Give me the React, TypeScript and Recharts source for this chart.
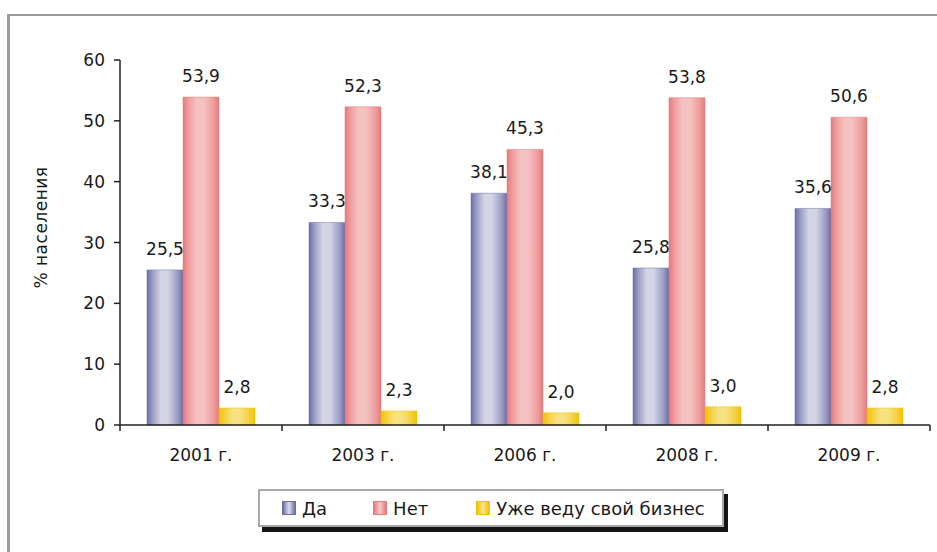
import { BarChart, Bar, XAxis, YAxis, LabelList } from "recharts";

// categories and series
const years = ["2001 г.", "2003 г.", "2006 г.", "2008 г.", "2009 г."];
const da = [25.5, 33.3, 38.1, 25.8, 35.6];
const net = [53.9, 52.3, 45.3, 53.8, 50.6];
const biz = [2.8, 2.3, 2.0, 3.0, 2.8];
const yTicks = [0, 10, 20, 30, 40, 50, 60];

const data = years.map((y, i) => ({ year: y, da: da[i], net: net[i], biz: biz[i] }));

const FONT = "'DejaVu Sans', sans-serif";
const TXT = "#1a1a1a";

const SERIES = [
  { key: "da", label: "Да", grad: "gDa", edge: "#6a6ea5", mid: "#d3d5e5", soft: "#9a9dc4" },
  { key: "net", label: "Нет", grad: "gNet", edge: "#e57a7b", mid: "#f5c2c2", soft: "#ee9d9d" },
  { key: "biz", label: "Уже веду свой бизнес", grad: "gBiz", edge: "#f2c200", mid: "#f7e281", soft: "#f4d040" },
];

const fmt = (v: number) => v.toFixed(1).replace(".", ",");

// category label in the middle, tick marks on the band edges (Excel style)
function YearTick(props: any) {
  const { x, y, payload, index, width } = props;
  const half = width / years.length / 2;
  return (
    <g>
      <line x1={x - half} y1={y - 8} x2={x - half} y2={y - 2} stroke="#222" strokeWidth={1.5} />
      {index === years.length - 1 && (
        <line x1={x + half} y1={y - 8} x2={x + half} y2={y - 2} stroke="#222" strokeWidth={1.5} />
      )}
      <text x={x} y={y + 28} textAnchor="middle" fontFamily={FONT} fontSize={17} fill={TXT}>
        {payload.value}
      </text>
    </g>
  );
}

function LegendBox() {
  return (
    <div
      style={{
        position: "absolute",
        left: 258,
        top: 489,
        width: 466,
        height: 38,
        border: "2px solid #a9a9a9",
        boxShadow: "4px 5px 0 #141414",
        background: "#fff",
        display: "flex",
        alignItems: "center",
        fontFamily: FONT,
        fontSize: 18,
        color: TXT,
        paddingLeft: 22,
        boxSizing: "border-box",
        whiteSpace: "nowrap",
      }}
    >
      {SERIES.map((s, i) => (
        <div key={s.key} style={{ display: "flex", alignItems: "center", marginRight: i === 0 ? 46 : 48 }}>
          <span
            style={{
              width: 14,
              height: 14,
              marginRight: 6,
              boxSizing: "border-box",
              border: `1px solid ${s.edge}`,
              background: `linear-gradient(to right, ${s.edge}, ${s.mid} 45%, ${s.mid} 55%, ${s.edge})`,
            }}
          />
          {s.label}
        </div>
      ))}
    </div>
  );
}

export default function App() {
  return (
    <div style={{ position: "absolute", left: 0, top: 0, width: 937, height: 552, background: "#fff", overflow: "hidden" }}>
      <div
        style={{
          position: "absolute",
          left: 7,
          top: 14,
          width: 960,
          height: 560,
          borderTop: "2px solid #9b9b9b",
          borderLeft: "3px solid #9b9b9b",
        }}
      />
      <div style={{ position: "absolute", left: 0, top: 0 }}>
        <BarChart
          width={937}
          height={552}
          data={data}
          margin={{ top: 60, right: 7, left: 60, bottom: 0 }}
          barGap={0}
          barCategoryGap={27}
        >
          <defs>
            {SERIES.map((s) => (
              <linearGradient key={s.grad} id={s.grad} x1="0" y1="0" x2="1" y2="0">
                <stop offset="0%" stopColor={s.edge} />
                <stop offset="15%" stopColor={s.soft} />
                <stop offset="38%" stopColor={s.mid} />
                <stop offset="58%" stopColor={s.mid} />
                <stop offset="85%" stopColor={s.soft} />
                <stop offset="100%" stopColor={s.edge} />
              </linearGradient>
            ))}
          </defs>
          <XAxis
            dataKey="year"
            height={127}
            axisLine={{ stroke: "#222", strokeWidth: 1.5 }}
            tickLine={false}
            tick={<YearTick />}
            interval={0}
          />
          <YAxis
            width={60}
            domain={[0, 60]}
            ticks={yTicks}
            interval={0}
            axisLine={{ stroke: "#222", strokeWidth: 1.5 }}
            tickLine={{ stroke: "#222", strokeWidth: 1.5 }}
            tickSize={6}
            tickMargin={9}
            tick={{ fontFamily: FONT, fontSize: 17, fill: TXT }}
            label={{
              value: "% населения",
              angle: -90,
              position: "insideLeft",
              dx: -24,
              dy: -15,
              style: { fontFamily: FONT, fontSize: 17, fill: TXT, letterSpacing: 0.5, textAnchor: "middle" },
            }}
          />
          {SERIES.map((s) => (
            <Bar
              key={s.key}
              dataKey={s.key}
              name={s.label}
              fill={`url(#${s.grad})`}
              stroke={s.edge}
              strokeWidth={0.5}
              isAnimationActive={false}
            >
              <LabelList
                dataKey={s.key}
                position="top"
                offset={15}
                formatter={(v: any) => fmt(Number(v))}
                style={{ fontFamily: FONT, fontSize: 17, fill: TXT }}
              />
            </Bar>
          ))}
        </BarChart>
      </div>
      <LegendBox />
    </div>
  );
}
